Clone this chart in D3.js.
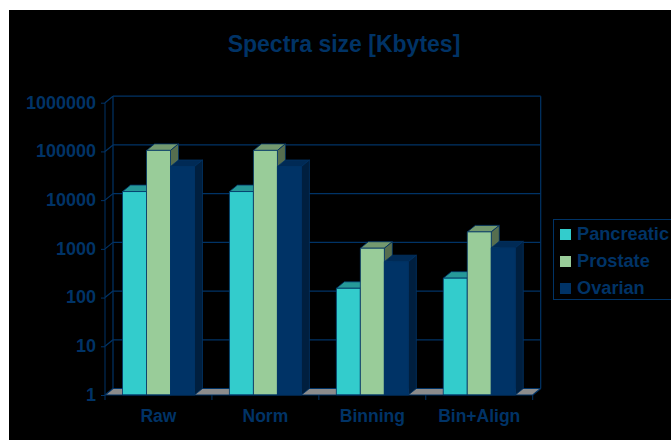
<!DOCTYPE html>
<html>
<head>
<meta charset="utf-8">
<script src="https://cdn.jsdelivr.net/npm/d3@7"></script>
<style>
html, body { margin: 0; padding: 0; background: #fff; }
svg { display: block; }
text { font-family: "Liberation Sans", Arial, sans-serif; font-weight: bold; fill: #003366; }
</style>
</head>
<body>
<svg id="chart" width="671" height="441"></svg>
<script>
const categories = ["Raw", "Norm", "Binning", "Bin+Align"];
const seriesNames = ["Pancreatic", "Prostate", "Ovarian"];
const pancreatic = [15000, 15000, 155, 250];
const prostate = [105000, 105000, 1030, 2230];
const ovarian = [49000, 49000, 545, 1050];
const seriesValues = [pancreatic, prostate, ovarian];
const yTicks = [1, 10, 100, 1000, 10000, 100000, 1000000];

const faceColors = ["#33cccc", "#99cc99", "#003366"];
const topColors = ["#269999", "#73996f", "#002a55"];
const sideColors = ["#1f7a7a", "#566e4f", "#001f3f"];
const ink = "#003366";

const plot = { left: 105, right: 532.7, top: 102.7, bottom: 395 };
const depth = { x: 8, y: 6.5 };
const groupInset = 17.5, groupWidth = 72;

const svg = d3.select("#chart");

// Dark panel behind everything, leaving a white margin at the top and left
svg.append("rect").attr("x", 9).attr("y", 10).attr("width", 662).attr("height", 430).attr("fill", "#000");

const y = d3.scaleLog().domain([1, 1000000]).range([plot.bottom, plot.top]);
const x = d3.scaleBand().domain(categories).range([plot.left, plot.right]);
const xInner = d3.scaleBand().domain(seriesNames).range([groupInset, groupInset + groupWidth]);

// Floor of the 3D box
const floor = [
  [plot.left, plot.bottom],
  [plot.left + depth.x, plot.bottom - depth.y],
  [plot.right + depth.x, plot.bottom - depth.y],
  [plot.right, plot.bottom]
];
svg.append("polygon").attr("points", floor.join(" ")).attr("fill", "#8c8c8c");

// Back wall gridlines and their slanted continuation over the left wall
const grid = svg.append("g").attr("fill", "none").attr("stroke", ink).attr("stroke-width", 1.2);
grid.selectAll("line.back").data(yTicks).join("line").attr("class", "back")
  .attr("x1", plot.left + depth.x).attr("x2", plot.right + depth.x)
  .attr("y1", d => y(d) - depth.y).attr("y2", d => y(d) - depth.y);
grid.selectAll("line.wall").data(yTicks).join("line").attr("class", "wall")
  .attr("x1", plot.left).attr("x2", plot.left + depth.x)
  .attr("y1", d => y(d)).attr("y2", d => y(d) - depth.y);
grid.append("line")
  .attr("x1", plot.left + depth.x).attr("x2", plot.left + depth.x)
  .attr("y1", y(1000000) - depth.y).attr("y2", y(1) - depth.y);
grid.append("line")
  .attr("x1", plot.right + depth.x).attr("x2", plot.right + depth.x)
  .attr("y1", y(1000000) - depth.y).attr("y2", y(1) - depth.y);
grid.append("line")
  .attr("x1", plot.right).attr("x2", plot.right + depth.x)
  .attr("y1", y(1)).attr("y2", y(1) - depth.y);

// Bars: front face, top face and right side for each series in each category
const bars = svg.append("g");
categories.forEach((cat, c) => {
  seriesNames.forEach((name, s) => {
    const x0 = x(cat) + xInner(name);
    const x1 = x0 + xInner.bandwidth();
    const yTop = y(seriesValues[s][c]);
    const g = bars.append("g").attr("stroke", ink).attr("stroke-width", 0.8).attr("stroke-linejoin", "round");
    g.append("polygon").attr("fill", topColors[s]).attr("points", [
      [x0, yTop], [x0 + depth.x, yTop - depth.y], [x1 + depth.x, yTop - depth.y], [x1, yTop]
    ].join(" "));
    g.append("polygon").attr("fill", sideColors[s]).attr("points", [
      [x1, yTop], [x1 + depth.x, yTop - depth.y], [x1 + depth.x, y(1) - depth.y], [x1, y(1)]
    ].join(" "));
    g.append("rect").attr("fill", faceColors[s])
      .attr("x", x0).attr("y", yTop).attr("width", x1 - x0).attr("height", y(1) - yTop);
  });
});

// Axes
const yAxis = d3.axisLeft(y).tickValues(yTicks).tickFormat(d3.format("d")).tickSize(4).tickPadding(5);
const yG = svg.append("g").attr("transform", `translate(${plot.left},0)`).call(yAxis);
yG.selectAll("text").attr("font-size", 18).attr("dy", "0.3em");

const xAxis = d3.axisBottom(x).tickSize(0).tickPadding(14);
const xG = svg.append("g").attr("transform", `translate(0,${plot.bottom})`).call(xAxis);
xG.selectAll("text").attr("font-size", 17.5).attr("dy", "0.75em");
xG.selectAll("line.sep").data(d3.range(categories.length + 1)).join("line").attr("class", "sep")
  .attr("x1", d => plot.left + d * x.bandwidth()).attr("x2", d => plot.left + d * x.bandwidth())
  .attr("y1", 0).attr("y2", 5).attr("stroke", ink);
svg.selectAll(".domain").attr("stroke", ink).attr("d", null);
svg.append("line").attr("x1", plot.left).attr("x2", plot.right).attr("y1", plot.bottom).attr("y2", plot.bottom).attr("stroke", ink);
svg.append("line").attr("x1", plot.left).attr("x2", plot.left).attr("y1", plot.top).attr("y2", plot.bottom).attr("stroke", ink);
svg.selectAll(".tick line").attr("stroke", ink);

// Title
svg.append("text").attr("x", 344).attr("y", 52).attr("text-anchor", "middle").attr("font-size", 23).text("Spectra size [Kbytes]");

// Legend
svg.append("rect").attr("x", 553.5).attr("y", 219.5).attr("width", 130).attr("height", 80)
  .attr("fill", "none").attr("stroke", ink);
const legend = svg.append("g").selectAll("g").data(seriesNames).join("g")
  .attr("transform", (d, i) => `translate(560,${229 + i * 27})`);
legend.append("rect").attr("width", 11).attr("height", 11).attr("fill", (d, i) => faceColors[i]);
legend.append("text").attr("x", 17).attr("y", 11).attr("font-size", 18.2).text(d => d);
</script>
</body>
</html>
